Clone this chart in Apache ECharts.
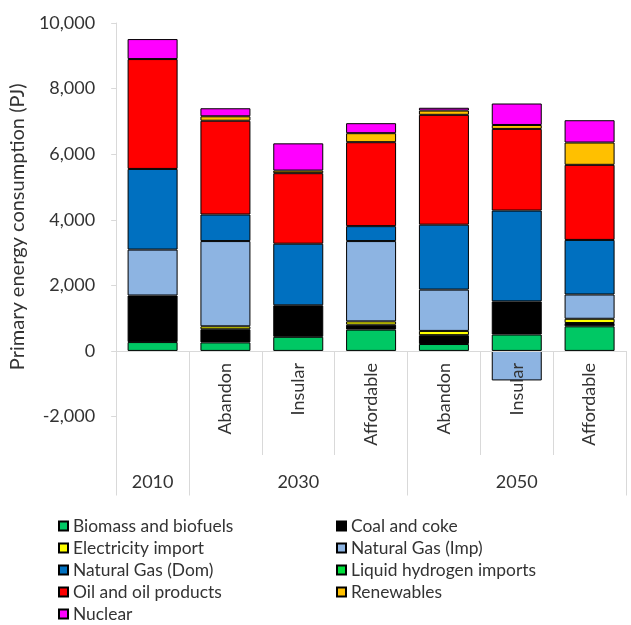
<!DOCTYPE html>
<html>
<head>
<meta charset="utf-8">
<script src="https://cdn.jsdelivr.net/npm/echarts@6/dist/echarts.min.js"></script>
<style>
html,body{margin:0;padding:0;background:#fff;}
#chart{width:631px;height:625px;}
</style>
</head>
<body>
<div id="chart"></div>
<script>
// Categories (bars)
const categories = ['2010', '2030 Abandon', '2030 Insular', '2030 Affordable', '2050 Abandon', '2050 Insular', '2050 Affordable'];
const scenarioLabels = ['', 'Abandon', 'Insular', 'Affordable', 'Abandon', 'Insular', 'Affordable'];
const yearLabels = ['2010', '', '2030', '', '', '2050', ''];
const yTicks = [-2000, 0, 2000, 4000, 6000, 8000, 10000];

// Series values (PJ)
const biomass    = [270, 260, 430, 650, 210, 500, 750];
const coal       = [1420, 400, 960, 150, 270, 1010, 100];
const elecImport = [null, 90, null, 100, 130, null, 130];
const ngImp      = [1400, 2600, null, 2450, 1260, -900, 740];
const ngDom      = [2460, 810, 1880, 455, 1980, 2770, 1665];
const lh2        = [null, null, null, null, null, null, null];
const oil        = [3350, 2860, 2150, 2560, 3350, 2490, 2290];
const renewables = [null, 135, 80, 275, 130, 120, 680];
const nuclear    = [610, 245, 830, 305, 85, 655, 680];

const seriesDefs = [
  ['Biomass and biofuels', biomass, '#00C864'],
  ['Coal and coke', coal, '#000000'],
  ['Electricity import', elecImport, '#FFFF00'],
  ['Natural Gas (Imp)', ngImp, '#8DB4E2'],
  ['Natural Gas (Dom)', ngDom, '#0070C0'],
  ['Liquid hydrogen imports', lh2, '#00E03C'],
  ['Oil and oil products', oil, '#FF0000'],
  ['Renewables', renewables, '#FFC000'],
  ['Nuclear', nuclear, '#FF00FF']
];

const FONT = 'Lato';
const TXT = '#333333';
const GRID = '#d9d9d9';

const chart = echarts.init(document.getElementById('chart'), null, {renderer: 'canvas'});
const yearTickIdx = [0, 1, 4];

const legendCommon = {
  orient: 'vertical', top: 517, padding: 0, itemWidth: 9, itemHeight: 9, itemGap: 4, icon: 'rect',
  height: 110,
  textStyle: {fontFamily: FONT, fontSize: 17.4, color: TXT, lineHeight: 18}
};

const option = {
  backgroundColor: '#ffffff',
  animation: false,
  textStyle: {fontFamily: FONT},
  grid: {left: 114, right: 5, top: 23, bottom: 208.5, containLabel: false},
  legend: [
    Object.assign({}, legendCommon, {
      left: 58,
      data: ['Biomass and biofuels', 'Electricity import', 'Natural Gas (Dom)', 'Oil and oil products', 'Nuclear']
    }),
    Object.assign({}, legendCommon, {
      left: 336,
      data: ['Coal and coke', 'Natural Gas (Imp)', 'Liquid hydrogen imports', 'Renewables']
    })
  ],
  xAxis: [
    {
      type: 'category', data: categories, position: 'bottom', offset: -65.5, z: 5,
      axisLine: {show: true, onZero: false, lineStyle: {color: GRID, width: 1}},
      axisTick: {show: true, interval: 0, length: 104, lineStyle: {color: GRID}},
      axisLabel: {
        interval: 0, rotate: 90, margin: 12, fontSize: 18, fontFamily: FONT, color: TXT,
        formatter: function (v, i) { return scenarioLabels[i]; }
      },
      splitLine: {show: false}
    },
    {
      type: 'category', data: categories, position: 'bottom', offset: 79,
      axisLine: {show: false, onZero: false},
      axisTick: {
        show: true, inside: true, length: 144, lineStyle: {color: GRID},
        interval: function (i) { return yearTickIdx.indexOf(i) >= 0; }
      },
      axisLabel: {
        inside: true, margin: 4, fontSize: 18, fontFamily: FONT, color: TXT,
        interval: function (i) { return yearLabels[i] !== ''; },
        formatter: function (v, i) { return yearLabels[i]; }
      },
      splitLine: {show: false}
    }
  ],
  yAxis: {
    type: 'value', min: yTicks[0], max: yTicks[yTicks.length - 1], interval: 2000,
    name: 'Primary energy consumption (PJ)', nameLocation: 'middle', nameRotate: 90, nameGap: 87,
    nameTextStyle: {fontFamily: FONT, fontSize: 20, color: TXT, padding: [0, 14, 0, 0]},
    axisLine: {show: true, lineStyle: {color: GRID}},
    axisTick: {show: true, length: 5, lineStyle: {color: GRID}},
    axisLabel: {
      margin: 21, fontSize: 18, fontFamily: FONT, color: TXT,
      formatter: function (v) { return v.toLocaleString('en-US'); }
    },
    splitLine: {show: false}
  },
  series: seriesDefs.map(function (d) {
    return {
      name: d[0], type: 'bar', stack: 'total', data: d[1], barWidth: 50, xAxisIndex: 0,
      itemStyle: {color: d[2], borderColor: '#000000', borderWidth: 1}
    };
  })
};
chart.setOption(option);
</script>
</body>
</html>
